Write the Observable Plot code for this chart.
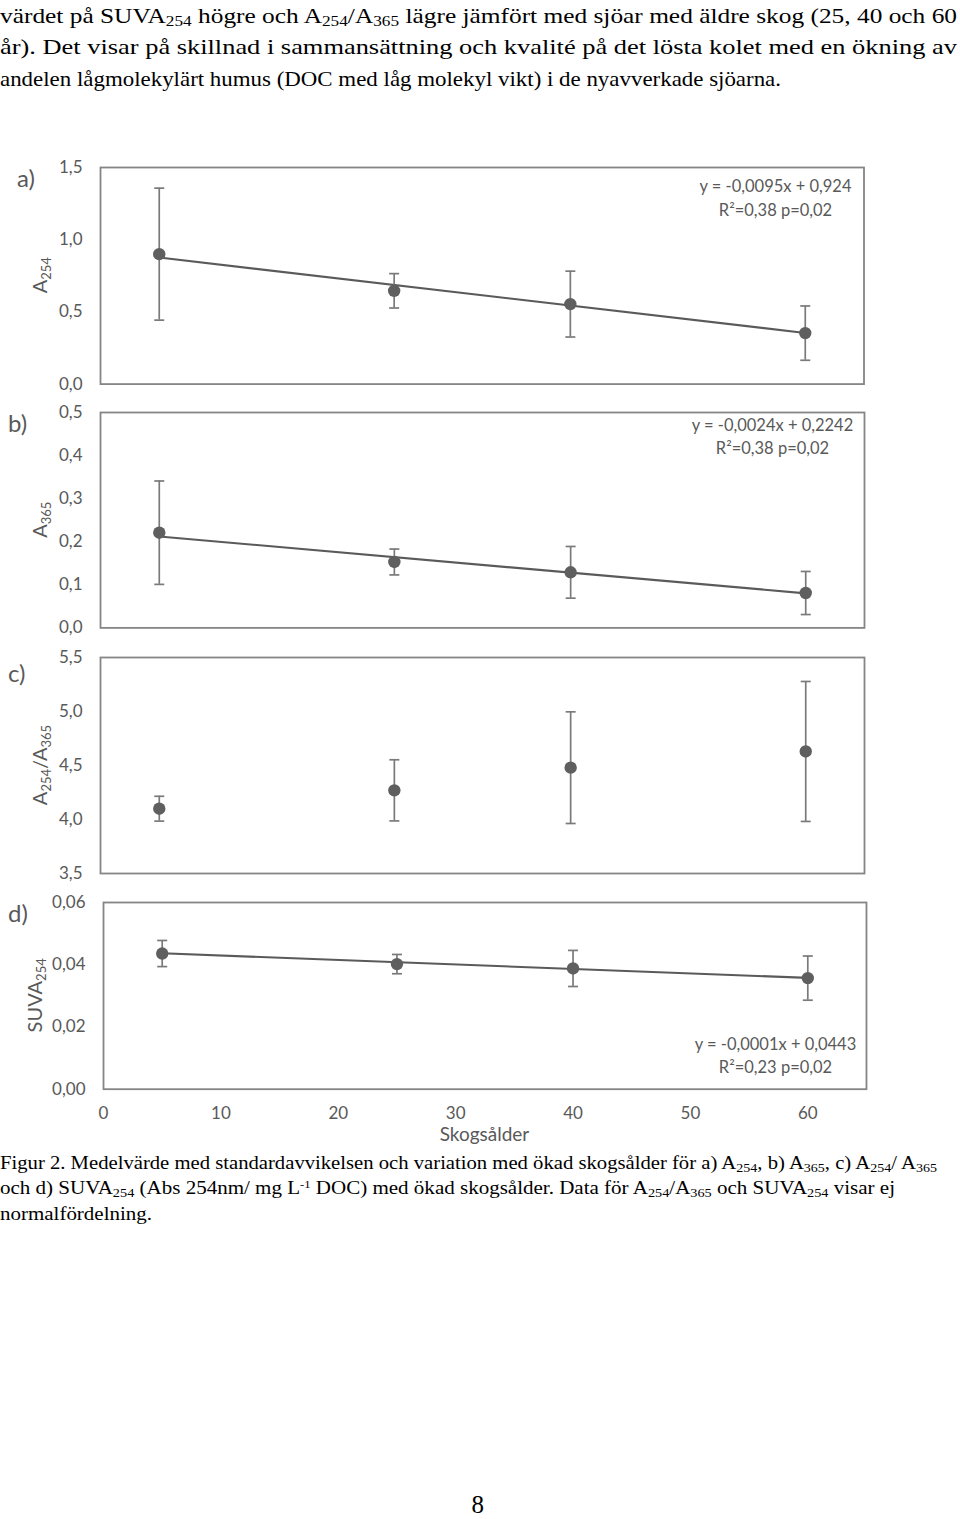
<!DOCTYPE html>
<html lang="sv">
<head>
<meta charset="utf-8">
<script src="https://cdn.jsdelivr.net/npm/d3@7"></script>
<script src="https://cdn.jsdelivr.net/npm/@observablehq/plot@0.6"></script>
<style>
html,body{margin:0;padding:0;background:#fff;}
body{position:relative;width:960px;height:1519px;overflow:hidden;}
.ln{position:absolute;left:0;white-space:nowrap;display:inline-block;font-family:"Liberation Serif",serif;color:#000;transform-origin:0 0;line-height:1;}
.ln sub{font-size:0.68em;vertical-align:-0.22em;line-height:0;}
.ln sup{font-size:0.6em;vertical-align:0.5em;line-height:0;}
.panel{position:absolute;left:0;}
</style>
</head>
<body>
<div class="ln" style="top:4.8px;font-size:22px" data-w="957">värdet på SUVA<sub>254</sub> högre och A<sub>254</sub>/A<sub>365</sub> lägre jämfört med sjöar med äldre skog (25, 40 och 60</div>
<div class="ln" style="top:36.3px;font-size:22px" data-w="957">år). Det visar på skillnad i sammansättning och kvalité på det lösta kolet med en ökning av</div>
<div class="ln" style="top:67.6px;font-size:22px" data-w="781">andelen lågmolekylärt humus (DOC med låg molekyl vikt) i de nyavverkade sjöarna.</div>
<div id="charts"></div>
<div class="ln" style="top:1152.5px;font-size:19px" data-w="937">Figur 2. Medelvärde med standardavvikelsen och variation med ökad skogsålder för a) A<sub>254</sub>, b) A<sub>365</sub>, c) A<sub>254</sub>/ A<sub>365</sub></div>
<div class="ln" style="top:1178px;font-size:19px" data-w="895">och d) SUVA<sub>254</sub> (Abs 254nm/ mg L<sup>-1</sup> DOC) med ökad skogsålder. Data för A<sub>254</sub>/A<sub>365</sub> och SUVA<sub>254</sub> visar ej</div>
<div class="ln" style="top:1203.5px;font-size:19px" data-w="152">normalfördelning.</div>
<div class="ln" style="top:1496px;left:471.5px;font-size:25px;line-height:18px">8</div>
<script>
// ---- data ----
const ages = [5, 25, 40, 60];
const xTicks = [0, 10, 20, 30, 40, 50, 60];
const a254Mean = [0.900, 0.646, 0.554, 0.353];
const a254Sd   = [0.457, 0.119, 0.228, 0.188];
const a365Mean = [0.221, 0.153, 0.129, 0.081];
const a365Sd   = [0.120, 0.030, 0.060, 0.050];
const ratioMean = [4.10, 4.27, 4.48, 4.63];
const ratioSd   = [0.115, 0.283, 0.517, 0.648];
const suvaMean = [0.0436, 0.0402, 0.0388, 0.0357];
const suvaSd   = [0.0042, 0.0031, 0.0058, 0.0071];
const a254Ticks = [0, 0.5, 1.0, 1.5];
const a365Ticks = [0, 0.1, 0.2, 0.3, 0.4, 0.5];
const ratioTicks = [3.5, 4.0, 4.5, 5.0, 5.5];
const suvaTicks = [0, 0.02, 0.04, 0.06];
const trendSlopes = [-0.0095, -0.0024, null, -0.000144];
const trendIntercepts = [0.924, 0.2242, null, 0.0444];
const equations = [
  "y = -0,0095x + 0,924\nR²=0,38 p=0,02",
  "y = -0,0024x + 0,2242\nR²=0,38 p=0,02",
  null,
  "y = -0,0001x + 0,0443\nR²=0,23 p=0,02"
];
const panelLabels = ["a)", "b)", "c)", "d)"];
const yTitles = [
  [["A",""],["254","sub"]],
  [["A",""],["365","sub"]],
  [["A",""],["254","sub"],["/A",""],["365","sub"]],
  [["SUVA",""],["254","sub"]]
];
const xTitle = "Skogsålder";

// ---- style ----
const TEXT = "#595959", FRAME = "#858585", LINE = "#5a5a5a", DOT = "#5f5f5f", ERR = "#7a7a7a";
const FONT = "Lato, sans-serif";
const cap = {draw(ctx, size) { const w = Math.sqrt(size / Math.PI); ctx.moveTo(-w, 0); ctx.lineTo(w, 0); }};

const layout = [
  {top:166.7, bottom:383.3, left:100, right:863.5, domain:[0,1.5], ticks:a254Ticks, dec:1, mean:a254Mean, sd:a254Sd, eqAnchor:"top-right", eqDx:-88.5, eqDy:28.8, titleX:47, labelX:17, labelBase:187},
  {top:412.3, bottom:627.7, left:100, right:864, domain:[0,0.5], ticks:a365Ticks, dec:1, mean:a365Mean, sd:a365Sd, eqAnchor:"top-right", eqDx:-92, eqDy:22.5, titleX:47, labelX:8, labelBase:432},
  {top:656.7, bottom:872.7, left:100, right:864, domain:[3.5,5.5], ticks:ratioTicks, dec:1, mean:ratioMean, sd:ratioSd, titleX:47, labelX:8, labelBase:682},
  {top:902.3, bottom:1089, left:103, right:866, domain:[0,0.06], ticks:suvaTicks, dec:2, mean:suvaMean, sd:suvaSd, eqAnchor:"bottom-right", eqDx:-91, eqDy:-35.3, titleX:42, labelX:8, labelBase:922, xAxis:true, xTitleBase:1141}
];

const host = document.getElementById("charts");
layout.forEach((p, k) => {
  const mt = 20, mb = p.xAxis ? 62 : 14;
  const height = mt + (p.bottom - p.top) + mb;
  const svgTop = p.top - mt;
  const data = ages.map((x, i) => ({x, y: p.mean[i], lo: p.mean[i] - p.sd[i], hi: p.mean[i] + p.sd[i]}));
  const marks = [
    Plot.frame({stroke: FRAME, strokeWidth: 1.8}),
    Plot.axisY({ticks: p.ticks, tickFormat: d => d.toFixed(p.dec).replace(".", ","), tickSize: 0, tickPadding: 18, label: null, fontSize: 17})
  ];
  if (p.xAxis) marks.push(Plot.axisX({ticks: xTicks, tickFormat: d => String(d), tickSize: 0, tickPadding: 18, label: null, fontSize: 17}));
  if (trendSlopes[k] != null) {
    const ext = d3.extent(ages);
    marks.push(Plot.line(ext.map(x => ({x, y: trendSlopes[k] * x + trendIntercepts[k]})), {x: "x", y: "y", stroke: LINE, strokeWidth: 2.1}));
  }
  marks.push(Plot.ruleX(data, {x: "x", y1: "lo", y2: "hi", stroke: ERR, strokeWidth: 1.7}));
  marks.push(Plot.dot(data, {x: "x", y: "lo", symbol: cap, r: 5, stroke: ERR, strokeWidth: 1.7, fill: "none"}));
  marks.push(Plot.dot(data, {x: "x", y: "hi", symbol: cap, r: 5, stroke: ERR, strokeWidth: 1.7, fill: "none"}));
  marks.push(Plot.dot(data, {x: "x", y: "y", r: 6.2, fill: DOT, stroke: "none"}));
  if (equations[k]) marks.push(Plot.text([equations[k]], {text: d => d, frameAnchor: p.eqAnchor, textAnchor: "middle", lineAnchor: "middle", lineHeight: 1.42, dx: p.eqDx, dy: p.eqDy, fontSize: 16.5, fill: TEXT}));
  const chart = Plot.plot({
    width: 960, height,
    marginTop: mt, marginBottom: mb, marginLeft: p.left, marginRight: 960 - p.right,
    x: p.xAxis ? {domain: [0, 65]} : {domain: [0, 65], axis: null},
    y: {domain: p.domain},
    style: {fontFamily: FONT, fontSize: "17px", color: TEXT, background: "none", overflow: "visible"},
    marks
  });
  const svg = d3.select(chart);
  const t = svg.append("text")
    .attr("transform", `translate(${p.titleX},${(p.top + p.bottom) / 2 - svgTop}) rotate(-90)`)
    .attr("text-anchor", "middle").attr("fill", TEXT).attr("font-size", 20).attr("font-family", FONT);
  let shifted = false;
  yTitles[k].forEach(([s, kind]) => {
    const ts = t.append("tspan").text(s);
    if (kind === "sub") { ts.attr("font-size", 13).attr("dy", 4); shifted = true; }
    else if (shifted) { ts.attr("dy", -4); shifted = false; }
  });
  svg.append("text").attr("x", p.labelX).attr("y", p.labelBase - svgTop).attr("text-anchor", "start")
    .attr("fill", TEXT).attr("font-size", 24).attr("font-family", FONT).text(panelLabels[k]);
  if (p.xAxis) {
    svg.append("text").attr("x", (p.left + p.right) / 2).attr("y", p.xTitleBase - svgTop).attr("text-anchor", "middle")
      .attr("fill", TEXT).attr("font-size", 19).attr("font-family", FONT).text(xTitle);
  }
  const wrap = document.createElement("div");
  wrap.className = "panel";
  wrap.style.top = svgTop + "px";
  wrap.appendChild(chart);
  host.appendChild(wrap);
});

document.querySelectorAll("[data-w]").forEach(el => {
  const w = el.getBoundingClientRect().width;
  el.style.transform = `scaleX(${(+el.dataset.w / w).toFixed(4)})`;
});
</script>
</body>
</html>
